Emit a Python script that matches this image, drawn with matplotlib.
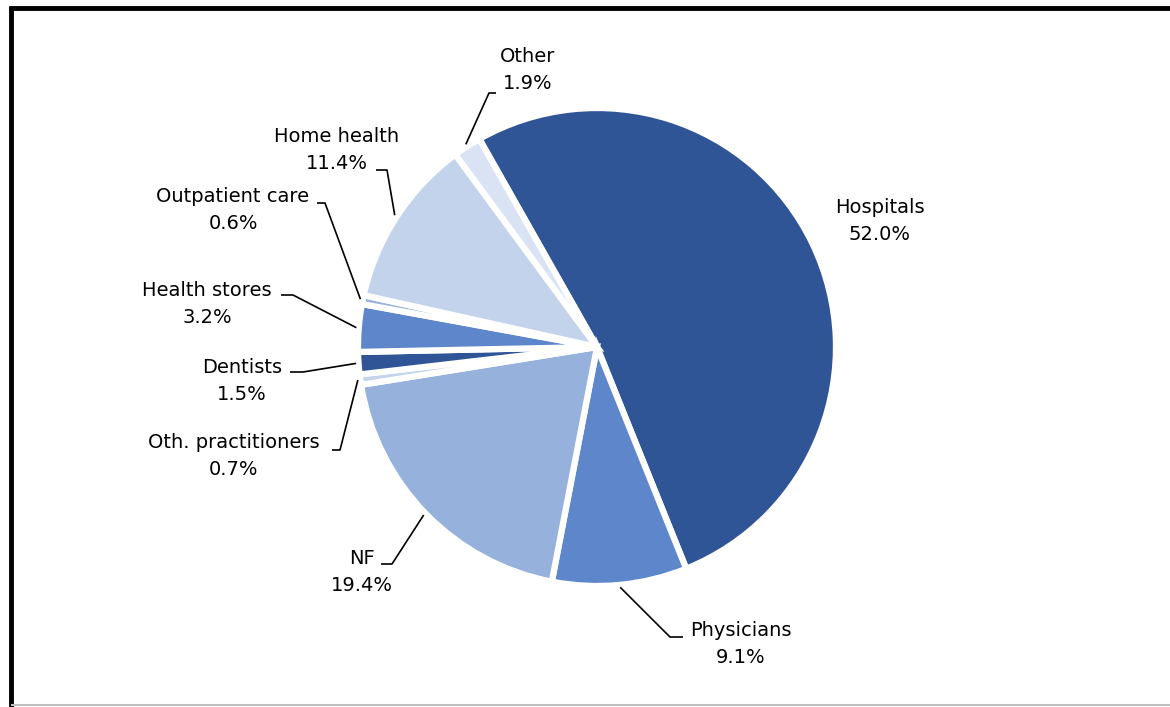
import numpy as np
import matplotlib
matplotlib.use("Agg")
import matplotlib.pyplot as plt
from matplotlib.lines import Line2D

# Spending shares by provider type (percent)
categories = ["Hospitals", "Physicians", "NF", "Oth. practitioners", "Dentists",
              "Health stores", "Outpatient care", "Home health", "Other"]
shares = [52.0, 9.1, 19.4, 0.7, 1.5, 3.2, 0.6, 11.4, 1.9]
colors = ["#2F5597", "#5E86CA", "#95B1DC", "#C3D3EC", "#2F5597",
          "#5E86CA", "#95B1DC", "#C3D3EC", "#DAE3F3"]

W, H = 1170, 707
fig = plt.figure(figsize=(W / 100, H / 100), dpi=100)
fig.patch.set_facecolor("white")
ax = fig.add_axes([0, 0, 1, 1])

cx, cy, R = 597, H - 347, 239
wedges, _ = ax.pie(shares, colors=colors, startangle=119.5, counterclock=False,
                   center=(cx, cy), radius=R,
                   wedgeprops=dict(edgecolor="white", linewidth=4.5))
ax.set_xlim(0, W)
ax.set_ylim(0, H)
ax.set_aspect("equal", adjustable="datalim")
ax.axis("off")

# Label layout: text centre, and elbow / end of the leader line (pixels from top-left)
layout = {
    "Hospitals":          dict(text=(880, 221), elbow=None),
    "Physicians":         dict(text=(741, 644), elbow=[(670, 637), (683, 637)]),
    "NF":                 dict(text=(362, 572), elbow=[(392, 564), (381, 564)]),
    "Oth. practitioners": dict(text=(234, 456), elbow=[(340, 450), (332, 450)]),
    "Dentists":           dict(text=(242, 381), elbow=[(303, 372), (290, 372)]),
    "Health stores":      dict(text=(207, 304), elbow=[(293, 295), (281, 295)]),
    "Outpatient care":    dict(text=(233, 210), elbow=[(325, 203), (317, 203)]),
    "Home health":        dict(text=(337, 150), elbow=[(387, 170), (376, 170)]),
    "Other":              dict(text=(528, 70), elbow=[(489, 93), (496, 93)]),
}

for w, name, val in zip(wedges, categories, shares):
    lay = layout[name]
    tx, ty = lay["text"]
    ax.text(tx, H - ty, f"{name}\n{val:.1f}%", ha="center", va="center",
            fontsize=14, family="DejaVu Sans", linespacing=1.5, color="black")
    if lay["elbow"] is not None:
        mid = np.deg2rad((w.theta1 + w.theta2) / 2)
        sx, sy = cx + R * 1.01 * np.cos(mid), cy + R * 1.01 * np.sin(mid)
        xs = [sx] + [p[0] for p in lay["elbow"]]
        ys = [sy] + [H - p[1] for p in lay["elbow"]]
        ax.plot(xs, ys, color="black", lw=1.2, solid_capstyle="butt")

# Frame around the chart area
fig.add_artist(Line2D([9 / W, 1], [1 - 7.5 / H, 1 - 7.5 / H], color="black", lw=3.5,
                      solid_capstyle="butt", transform=fig.transFigure))
fig.add_artist(Line2D([11 / W, 11 / W], [0, 1 - 6 / H], color="black", lw=3.5,
                      solid_capstyle="butt", transform=fig.transFigure))
fig.add_artist(Line2D([11 / W, 1], [1 - 705 / H, 1 - 705 / H], color="#BFBFBF", lw=1.5,
                      solid_capstyle="butt", transform=fig.transFigure))

fig.savefig("out.png", dpi=100, facecolor="white")
